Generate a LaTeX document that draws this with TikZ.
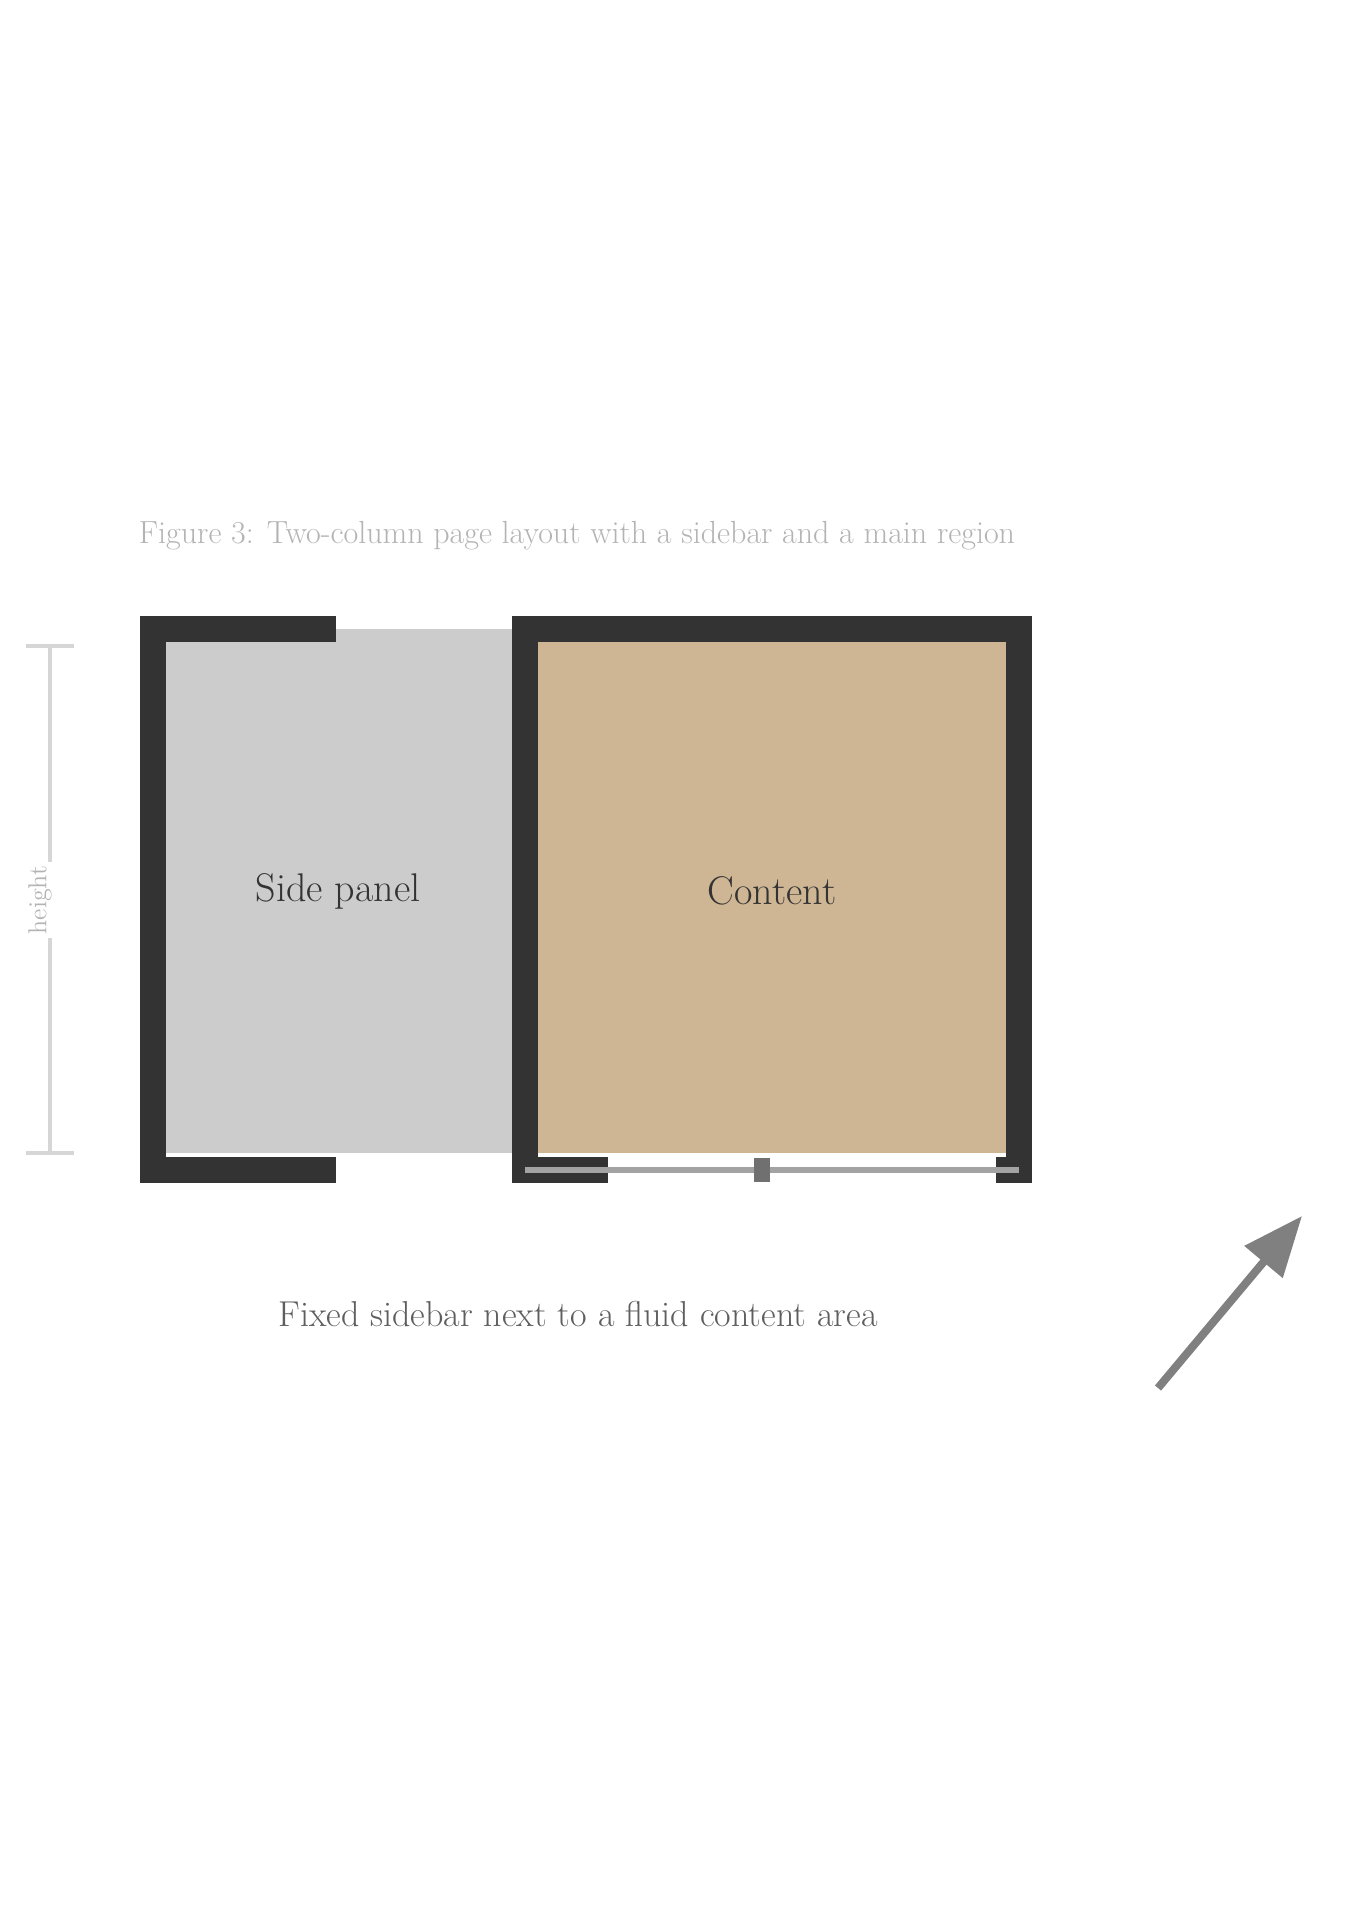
\documentclass[tikz,border=0pt]{standalone}
\usetikzlibrary{arrows.meta,calc}
\definecolor{panelgray}{HTML}{CCCCCC}
\definecolor{tanfill}{HTML}{CEB594}
\definecolor{framedark}{HTML}{333333}
\definecolor{softline}{HTML}{D6D6D6}
\definecolor{captiongray}{HTML}{5E5E5E}
\definecolor{titlegray}{HTML}{B4B4B4}
\tikzset{
  panelbox/.style={inner sep=0pt, outer sep=0pt, font=\fontsize{20}{24}\selectfont, text=framedark},
  edge/.style={draw=framedark, line width=13pt, line cap=rect},
  thinedge/.style={draw=framedark!45, line width=3pt},
  dimline/.style={draw=softline, line width=2pt},
}
\begin{document}
\begin{tikzpicture}[x=0.5pt,y=-0.5pt]
\useasboundingbox (0,0) rectangle (1358,1920);
\fill[white] (0,0) rectangle (1358,1920);

% title
\node[text=titlegray, font=\fontsize{16}{19}\selectfont] (title) at (577,536)
  {Figure 3: Two-column page layout with a sidebar and a main region};

% panels
\node[panelbox, fill=panelgray, minimum width=185pt, minimum height=262pt] (L) at (338,891) {Side panel};
\node[panelbox, fill=tanfill, minimum width=247pt, minimum height=262pt] (R) at (772,891) {Content};

% frame lines
\coordinate (Lbl) at (153,1170);
\coordinate (Rbl) at (525,1170);
\coordinate (Rbr) at (1019,1170);
\draw[edge] (L.north west) -- (Lbl);
\draw[edge] (L.north west) -- ++(170,0);
\draw[edge] (Lbl) -- ++(170,0);
\draw[edge] (R.north west) -- (R.north east) -- (Rbr);
\draw[edge] (R.north west) -- (Rbl);
\draw[edge] (Rbl) -- ++(70,0);
\draw[edge] (Rbr) -- ++(-10,0);
\draw[thinedge] (Rbl) -- (Rbr);
\draw[draw=framedark!70, line width=8pt] ($(Rbl)!0.48!(Rbr)+(0,-12)$) -- ++(0,24);

% vertical dimension
\coordinate (d1) at (50,646);
\coordinate (d2) at (50,1153);
\draw[dimline] (d1) -- (d2);
\draw[dimline] (d1) ++(-24,0) -- ++(48,0);
\draw[dimline] (d2) ++(-24,0) -- ++(48,0);
\node[fill=white, text=titlegray, rotate=90, font=\fontsize{13}{15}\selectfont, inner sep=2pt] (dlabel) at (40,900) {height};

% caption
\node[text=captiongray, font=\fontsize{18}{21}\selectfont] (caption) at (578,1314)
  {Fixed sidebar next to a fluid content area};

% arrow
\coordinate (a1) at (1158,1388);
\coordinate (a2) at (1302,1216);
\draw[draw=gray, line width=4pt, -{Triangle[length=30pt,width=24pt]}] (a1) -- (a2);
\end{tikzpicture}
\end{document}
